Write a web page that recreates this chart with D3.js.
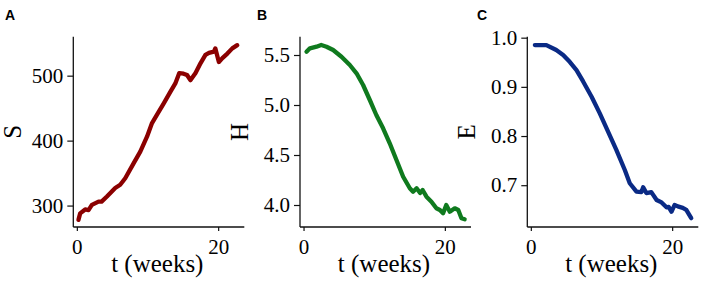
<!DOCTYPE html>
<html>
<head>
<meta charset="utf-8">
<script src="https://cdn.jsdelivr.net/npm/d3@7"></script>
<style>
  body { margin: 0; background: #fff; }
  svg { display: block; }
  .tick text { font-family: "Liberation Serif", "Times New Roman", serif; font-size: 21px; fill: #000; }
  .lab { font-family: "Liberation Serif", "Times New Roman", serif; font-size: 25px; fill: #000; }
  .panel { font-family: "Liberation Sans", Arial, sans-serif; font-size: 14px; font-weight: bold; }
</style>
</head>
<body>
<svg id="chart" width="702" height="281"></svg>
<script>
// weeks / value pairs
const tS = [0.23, 0.47, 1.18, 1.65, 2.13, 3.07, 3.5, 4.26, 5.43, 6.14, 6.85, 8.03, 8.98, 9.93, 10.64, 11.35, 12.28, 13.23, 13.94, 14.5, 15.1, 15.6, 16.07, 16.8, 17.5, 18.2, 18.7, 19.4, 19.6, 20.1, 20.6, 21.3, 22.0, 22.7];
const S = [278, 288, 294, 293, 301, 306, 306, 314, 327, 332, 342, 365, 383, 406, 427, 440, 457, 475, 488, 504, 503, 501, 493, 504, 519, 532, 535, 537, 542, 521, 527, 534, 542, 547];

const tH = [0.42, 0.9, 1.84, 2.5, 3.25, 4.19, 5.37, 6.55, 7.5, 8.43, 9.38, 10.3, 11.26, 12.2, 13.15, 14.1, 15.04, 15.5, 16.0, 16.5, 16.85, 17.4, 18.1, 18.8, 19.3, 19.75, 20.2, 20.7, 21.4, 21.9, 22.35, 22.8];
const H = [5.533, 5.567, 5.583, 5.6, 5.583, 5.55, 5.483, 5.4, 5.317, 5.2, 5.05, 4.9, 4.767, 4.617, 4.45, 4.283, 4.167, 4.133, 4.167, 4.12, 4.15, 4.083, 4.033, 3.967, 3.95, 3.917, 4.0, 3.933, 3.967, 3.95, 3.867, 3.857];

const tE = [0.57, 2.2, 3.6, 4.57, 5.5, 6.46, 7.4, 8.6, 9.76, 10.93, 12.1, 13.3, 14.0, 14.95, 15.65, 15.9, 16.35, 17.05, 17.8, 18.5, 19.2, 19.5, 19.9, 20.35, 20.8, 21.5, 22.0, 22.7];
const E = [0.985, 0.985, 0.975, 0.965, 0.951, 0.934, 0.911, 0.880, 0.846, 0.809, 0.772, 0.731, 0.704, 0.687, 0.686, 0.696, 0.684, 0.686, 0.670, 0.665, 0.655, 0.656, 0.646, 0.660, 0.657, 0.654, 0.650, 0.633];

const xTicks = [0, 20];
const panels = [
  { letter: "A", ylab: "S", t: tS, v: S, dom: [267, 560], ticks: [300, 400, 500], fmt: d3.format("d"), color: "#8b0000", left: 73.3, lx: 5 },
  { letter: "B", ylab: "H", t: tH, v: H, dom: [3.78, 5.683], ticks: [4.0, 4.5, 5.0, 5.5], fmt: d3.format(".1f"), color: "#0f7a1e", left: 300, lx: 257 },
  { letter: "C", ylab: "E", t: tE, v: E, dom: [0.615, 1.002], ticks: [0.7, 0.8, 0.9, 1.0], fmt: d3.format(".1f"), color: "#0a2a85", left: 527.3, lx: 477 }
];

const svg = d3.select("#chart");
const plotTop = 36.7, h = 190.3, w = 171;

panels.forEach(p => {
  const g = svg.append("g").attr("transform", `translate(${p.left},${plotTop})`);
  const x = d3.scaleLinear().domain([-0.5, 23.7]).range([0, w]);
  const y = d3.scaleLinear().domain(p.dom).range([h, 0]);

  const yAx = g.append("g")
    .call(d3.axisLeft(y).tickValues(p.ticks).tickFormat(p.fmt).tickSize(6).tickPadding(4));
  const xAx = g.append("g").attr("transform", `translate(0,${h})`)
    .call(d3.axisBottom(x).tickValues(xTicks).tickSize(4).tickPadding(8));
  [yAx, xAx].forEach(a => {
    a.select(".domain").attr("stroke", "#111").attr("stroke-width", 1.3)
      .attr("d", a === yAx ? `M0,0V${h}` : `M0,0H${w}`);
    a.selectAll(".tick line").attr("stroke", "#111").attr("stroke-width", 1.2);
  });

  g.append("path")
    .datum(p.t.map((d, i) => [d, p.v[i]]))
    .attr("fill", "none")
    .attr("stroke", p.color)
    .attr("stroke-width", 4.3)
    .attr("stroke-linejoin", "round")
    .attr("stroke-linecap", "round")
    .attr("d", d3.line().x(d => x(d[0])).y(d => y(d[1])));

  g.append("text").attr("class", "lab")
    .attr("text-anchor", "middle")
    .attr("x", 84).attr("y", 272 - plotTop)
    .text("t (weeks)");

  g.append("text").attr("class", "lab")
    .attr("text-anchor", "middle")
    .attr("transform", `translate(-52,${h / 2}) rotate(-90)`)
    .text(p.ylab);

  svg.append("text").attr("class", "panel")
    .attr("x", p.lx).attr("y", 20)
    .text(p.letter);
});
</script>
</body>
</html>
